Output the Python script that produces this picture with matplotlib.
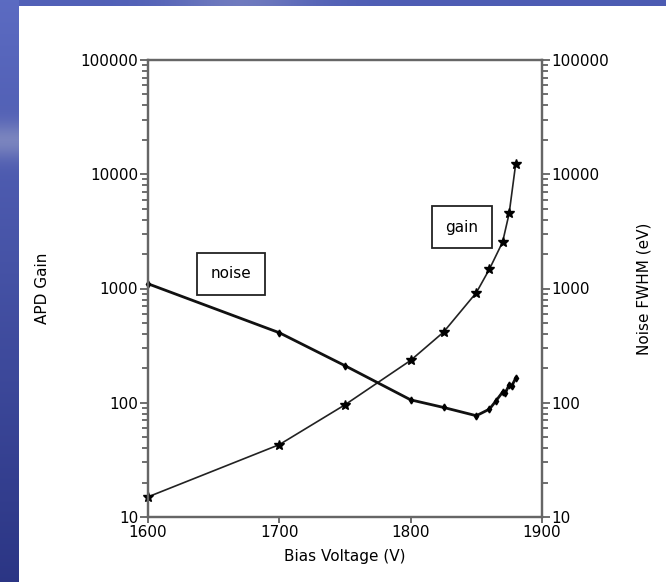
import numpy as np
import matplotlib
matplotlib.use('Agg')
import matplotlib.pyplot as plt
from matplotlib.ticker import LogLocator, FixedLocator, NullFormatter, FuncFormatter

# APD gain vs. bias voltage
gain_voltage = [1600, 1700, 1750, 1800, 1825, 1850, 1860, 1870, 1875, 1880]
gain_values = [15, 43, 96, 235, 415, 920, 1480, 2550, 4550, 12400]

# electronic noise (FWHM, eV) vs. bias voltage
noise_voltage = [1600, 1700, 1750, 1800, 1825, 1850, 1860, 1865, 1870, 1872, 1875, 1877, 1880]
noise_values = [1100, 410, 211, 106, 91, 77, 88, 104, 124, 121, 144, 140, 165]

x_ticks = [1600, 1700, 1800, 1900]
y_ticks = [10, 100, 1000, 10000, 100000]

W, H = 666, 582
fig = plt.figure(figsize=(W / 100, H / 100), dpi=100, facecolor='white')

# slide background: blue frame on the left and top edges
bg = np.ones((H, W, 3))
rows = np.linspace(0, 1, H)[:, None]
top = np.array([0.36, 0.42, 0.76])
bottom = np.array([0.17, 0.21, 0.52])
strip = top * (1 - rows) + bottom * rows
glow = np.exp(-((np.arange(H) - 140) / 18.0) ** 2)[:, None]
strip = strip * (1 - 0.45 * glow) + np.array([0.68, 0.70, 0.80]) * 0.45 * glow
bg[:, :19, :] = strip[:, None, :].repeat(19, axis=1).reshape(H, 19, 3)
cols = np.linspace(0, 1, W)[:, None]
top_row = np.array([0.32, 0.38, 0.72]) * (1 - cols) + np.array([0.30, 0.36, 0.70]) * cols
tglow = np.exp(-((np.arange(W) - 240) / 70.0) ** 2)[:, None]
top_row = top_row * (1 - 0.4 * tglow) + np.array([0.62, 0.64, 0.80]) * 0.4 * tglow
bg[:6, 19:, :] = top_row[19:][None, :, :]
bg_ax = fig.add_axes([0, 0, 1, 1], zorder=-1)
bg_ax.imshow(bg, aspect='auto', interpolation='bilinear')
bg_ax.axis('off')

ax = fig.add_axes([148 / W, 65 / H, 394 / W, 457 / H])
ax2 = ax.twinx()

ax.plot(gain_voltage, gain_values, color='#222222', lw=1.2,
        marker='*', ms=7, mfc='black', mec='black', clip_on=False)
ax.plot(noise_voltage, noise_values, color='#111111', lw=2.0,
        marker='d', ms=3.5, mfc='black', mec='black', clip_on=False)

for a in (ax, ax2):
    a.set_yscale('log')
    a.set_ylim(10, 100000)
    a.yaxis.set_major_locator(FixedLocator(y_ticks))
    a.yaxis.set_major_formatter(FuncFormatter(lambda v, p: f'{int(round(v))}'))
    a.yaxis.set_minor_locator(LogLocator(base=10, subs=np.arange(2, 10)))
    a.yaxis.set_minor_formatter(NullFormatter())
    a.tick_params(axis='y', which='both', direction='out', width=1.2,
                  color='#555555', labelsize=11, pad=1)
    a.tick_params(axis='y', which='major', length=6)
    a.tick_params(axis='y', which='minor', length=4)
    for s in a.spines.values():
        s.set_color('#666666')
        s.set_linewidth(1.6)

ax.set_xlim(1600, 1900)
ax.set_xticks(x_ticks)
ax.tick_params(axis='x', direction='out', length=4, width=1.2, color='#555555',
               labelsize=11, pad=2)

ax.set_xlabel('Bias Voltage (V)', fontsize=11, labelpad=6)
ax.set_ylabel('APD Gain', fontsize=11)
ax.yaxis.set_label_coords(-0.249, 0.5)
ax2.set_ylabel('Noise FWHM (eV)', fontsize=11, rotation=90)
ax2.yaxis.set_label_coords(1.241, 0.5)

box = dict(boxstyle='square,pad=0.9', facecolor='white', edgecolor='#222222', lw=1.3)
ax.text(1663, 1340, 'noise', fontsize=11, ha='center', va='center', bbox=box)
ax.text(1839, 3440, 'gain', fontsize=11, ha='center', va='center', bbox=box)

fig.savefig('out.png', dpi=100, facecolor='white')
